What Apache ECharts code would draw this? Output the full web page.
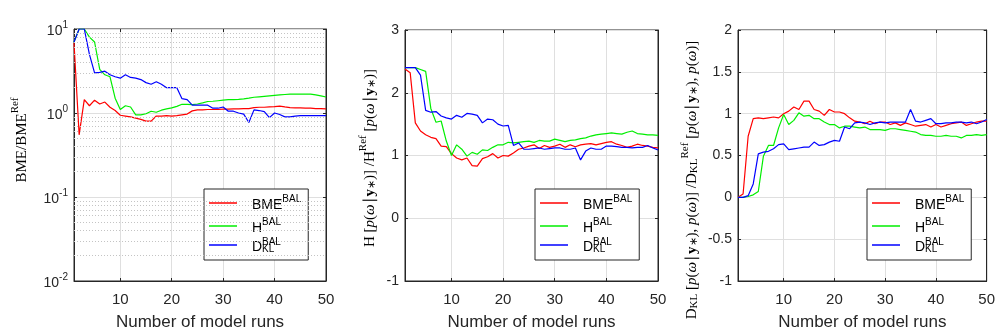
<!DOCTYPE html>
<html>
<head>
<meta charset="utf-8">
<script src="https://cdn.jsdelivr.net/npm/echarts@6/dist/echarts.min.js"></script>
<style>
  html, body { margin: 0; padding: 0; background: #fff; }
  #chart { width: 998px; height: 336px; }
</style>
</head>
<body>
<div id="chart"></div>
<script>
// x values: number of model runs
var runs = [1, 2, 3, 4, 5, 6, 7, 8, 9, 10, 11, 12, 13, 14, 15, 16, 17, 18, 19, 20,
  21, 22, 23, 24, 25, 26, 27, 28, 29, 30, 31, 32, 33, 34, 35, 36, 37, 38, 39, 40,
  41, 42, 43, 44, 45, 46, 47, 48, 49, 50];
var xTicks = [10, 20, 30, 40, 50];

// panel 1: BME / BME_ref (log axis)
var bme_bme = [6.8, 0.55, 1.44, 1.22, 1.42, 1.28, 1.35, 1.17, 1.07, 0.94,
  0.92, 0.9, 0.87, 0.84, 0.8, 0.8, 0.92, 0.92, 0.93, 0.92,
  0.93, 0.95, 0.97, 1.06, 1.09, 1.09, 1.1, 1.1, 1.1, 1.11,
  1.11, 1.12, 1.12, 1.13, 1.13, 1.16, 1.17, 1.17, 1.18, 1.19,
  1.21, 1.18, 1.16, 1.15, 1.15, 1.14, 1.14, 1.13, 1.13, 1.12];
var bme_h = [7.0, 10, 10, 8.0, 7.0, 3.3, 2.85, 2.7, 1.5, 1.1,
  1.22, 1.18, 0.95, 0.95, 0.98, 1.05, 1.02, 1.08, 1.12, 1.15,
  1.2, 1.27, 1.27, 1.26, 1.28, 1.32, 1.37, 1.38, 1.4, 1.42,
  1.44, 1.44, 1.45, 1.47, 1.5, 1.54, 1.56, 1.58, 1.6, 1.62,
  1.64, 1.66, 1.68, 1.68, 1.68, 1.68, 1.68, 1.64, 1.6, 1.55];
var bme_dkl = [7.0, 10, 10, 5.0, 3.0, 3.05, 3.15, 2.85, 2.7, 2.6,
  2.85, 2.65, 2.6, 2.5, 2.3, 2.2, 2.35, 2.2, 2.0, 2.0,
  2.0, 1.48, 1.44, 1.24, 1.24, 1.24, 1.24, 1.14, 1.14, 1.18,
  1.05, 1.05, 1.0, 0.97, 0.77, 1.09, 1.07, 1.04, 0.88, 1.0,
  0.96, 0.9, 0.9, 0.92, 0.93, 0.93, 0.93, 0.93, 0.93, 0.93];

// panel 2: entropy ratio
var h_bme = [2.38, 2.32, 1.52, 1.39, 1.33, 1.29, 1.27, 1.15, 1.14, 1.03,
  0.96, 0.93, 0.96, 0.84, 0.83, 0.95, 0.98, 1.03, 0.96, 1.0,
  0.99, 1.04, 1.1, 1.12, 1.15, 1.17, 1.11, 1.16, 1.13, 1.15,
  1.18, 1.13, 1.17, 1.14, 1.17, 1.18, 1.19, 1.17, 1.19, 1.21,
  1.22, 1.18, 1.16, 1.13, 1.15, 1.18, 1.16, 1.15, 1.13, 1.12];
var h_h = [2.4, 2.4, 2.4, 2.37, 2.34, 1.75, 1.53, 1.55, 1.23, 1.0,
  1.17, 1.1, 0.99, 1.05, 1.02, 1.09, 1.08, 1.13, 1.17, 1.17,
  1.21, 1.2, 1.21, 1.22, 1.23, 1.21, 1.24, 1.23, 1.23, 1.26,
  1.24, 1.22, 1.24, 1.25, 1.27, 1.28, 1.31, 1.33, 1.34, 1.35,
  1.36, 1.35, 1.34, 1.37, 1.39, 1.35, 1.34, 1.33, 1.33, 1.32];
var h_dkl = [2.4, 2.4, 2.4, 2.28, 1.72, 1.69, 1.7, 1.63, 1.6, 1.58,
  1.64, 1.61, 1.67, 1.66, 1.64, 1.52, 1.58, 1.57, 1.5, 1.47,
  1.48, 1.16, 1.2, 1.1, 1.1, 1.11, 1.12, 1.1, 1.11, 1.12,
  1.12, 1.1, 1.1, 1.12, 0.93, 1.07, 1.12, 1.1, 1.1, 1.15,
  1.15, 1.14, 1.13, 1.13, 1.12, 1.13, 1.13, 1.16, 1.12, 1.09];

// panel 3: relative entropy ratio
var d_bme = [0.0, 0.04, 0.73, 0.94, 0.95, 0.94, 0.95, 0.96, 0.95, 1.0,
  1.03, 1.08, 1.05, 1.15, 1.15, 1.05, 1.03, 0.98, 1.05, 1.02,
  1.02, 1.0, 0.95, 0.91, 0.9, 0.88, 0.91, 0.88, 0.9, 0.9,
  0.87, 0.89, 0.86, 0.89, 0.87, 0.85, 0.86, 0.87, 0.84, 0.87,
  0.84, 0.86, 0.88, 0.89, 0.9, 0.86, 0.88, 0.9, 0.91, 0.91];
var d_h = [0.0, 0.0, 0.01, 0.03, 0.07, 0.49, 0.62, 0.62, 0.83, 0.99,
  0.87, 0.92, 1.01, 0.97, 0.98, 0.94, 0.94, 0.9, 0.87, 0.87,
  0.83, 0.85, 0.85, 0.84, 0.83, 0.84, 0.81, 0.81, 0.81, 0.8,
  0.82, 0.82, 0.81, 0.8, 0.79, 0.78, 0.75, 0.74, 0.74, 0.73,
  0.73, 0.74, 0.73, 0.73, 0.71, 0.74, 0.74, 0.75, 0.74, 0.75];
var d_dkl = [0.0, 0.0, 0.02, 0.16, 0.52, 0.54, 0.55, 0.58, 0.63, 0.64,
  0.57, 0.58, 0.59, 0.6, 0.6, 0.66, 0.62, 0.63, 0.66, 0.68,
  0.67, 0.84, 0.82, 0.89, 0.9, 0.89, 0.87, 0.89, 0.9, 0.89,
  0.9, 0.9, 0.9, 0.9, 1.05, 0.91, 0.9, 0.92, 0.94, 0.88,
  0.88, 0.89, 0.89, 0.9, 0.9, 0.89, 0.9, 0.88, 0.9, 0.93];

// minor grid lines of the log axis
var logMinor = [0.02, 0.03, 0.04, 0.05, 0.06, 0.07, 0.08, 0.09,
  0.2, 0.3, 0.4, 0.5, 0.6, 0.7, 0.8, 0.9,
  2, 3, 4, 5, 6, 7, 8, 9];

var names = ['BME', 'H', 'DKL'];
var colors = ['#ff0000', '#00ee00', '#0000ff'];

var ink = '#262626';
var gridColor = '#dfdfdf';
var sans = 'Liberation Sans, Arial, sans-serif';
var serif = 'Liberation Serif, Times New Roman, serif';

var panels = [
  { rect: [74, 29, 252, 253], type: 'log', min: 0.01, max: 10, data: [bme_bme, bme_h, bme_dkl], legend: [204, 189] },
  { rect: [405, 30, 253, 252], type: 'value', min: -1, max: 3, interval: 1, data: [h_bme, h_h, h_dkl], legend: [535, 189] },
  { rect: [738, 30, 252, 252], type: 'value', min: -1, max: 2, interval: 0.5, data: [d_bme, d_h, d_dkl], legend: [867, 189] }
];

function pairs(ys) {
  return runs.map(function(x, i) { return [x, ys[i]]; });
}

var grids = [], xAxes = [], yAxes = [], series = [], legends = [];
var supRich = {
  b: { fontSize: 14, lineHeight: 18, verticalAlign: 'bottom', color: ink, fontFamily: sans },
  sup: { fontSize: 10, lineHeight: 18, verticalAlign: 'top', color: ink, fontFamily: sans }
};

panels.forEach(function(p, k) {
  grids.push({ left: p.rect[0], top: p.rect[1], width: p.rect[2], height: p.rect[3],
    show: true, borderColor: ink, borderWidth: 1, backgroundColor: '#fff' });

  xAxes.push({
    gridIndex: k, type: 'value', min: 1, max: 50, position: 'bottom',
    name: 'Number of model runs', nameLocation: 'middle', nameGap: 33,
    nameTextStyle: { fontSize: 17, color: ink, fontFamily: sans },
    axisLine: { onZero: false, lineStyle: { color: ink } },
    axisTick: { inside: true, length: 3, customValues: xTicks, lineStyle: { color: ink } },
    axisLabel: { customValues: xTicks, fontSize: 15, color: ink, fontFamily: sans, margin: 11 },
    splitLine: { show: true, lineStyle: { color: gridColor } }
  });
  xAxes.push({
    gridIndex: k, type: 'value', min: 1, max: 50, position: 'top',
    axisLine: { show: false, onZero: false },
    axisTick: { inside: true, length: 3, customValues: xTicks, lineStyle: { color: ink } },
    axisLabel: { show: false }, splitLine: { show: false }
  });

  var yBase = {
    gridIndex: k, type: p.type, min: p.min, max: p.max,
    axisLine: { show: true, onZero: false, lineStyle: { color: ink } },
    axisTick: { show: true, inside: true, length: 3, lineStyle: { color: ink } }
  };
  if (p.interval) yBase.interval = p.interval;
  if (p.type === 'log') yBase.logBase = 10;

  var yLeft = Object.assign({}, yBase, {
    position: 'left',
    axisLabel: { fontSize: 14, color: ink, fontFamily: sans, margin: 6 },
    splitLine: { show: true, lineStyle: { color: gridColor } }
  });
  if (p.type === 'log') {
    yLeft.axisLabel = {
      margin: 6, rich: supRich,
      formatter: function(v) {
        var e = Math.round(Math.log(v) / Math.LN10);
        return '{b|10}{sup|' + e + '}';
      }
    };
  }
  yAxes.push(yLeft);
  yAxes.push(Object.assign({}, yBase, {
    position: 'right', axisLabel: { show: false }, splitLine: { show: false }
  }));

  if (p.type === 'log') {
    series.push({
      type: 'line', xAxisIndex: 2 * k, yAxisIndex: 2 * k, data: [], z: 1, silent: true,
      markLine: {
        silent: true, symbol: 'none', label: { show: false }, animation: false,
        lineStyle: { color: '#c4c4c4', type: [1, 2], width: 1 },
        data: logMinor.map(function(v) { return { yAxis: v }; })
      }
    });
  }

  p.data.forEach(function(ys, j) {
    series.push({
      name: names[j], type: 'line', xAxisIndex: 2 * k, yAxisIndex: 2 * k,
      data: pairs(ys), symbol: 'none', z: 3,
      lineStyle: { color: colors[j], width: 1.2 }, itemStyle: { color: colors[j] }
    });
  });

  legends.push({
    left: p.legend[0], top: p.legend[1], orient: 'vertical',
    data: names, icon: 'rect', itemWidth: 28, itemHeight: 1.5, itemGap: 5,
    padding: [5, 7, 6, 5], backgroundColor: '#fff', borderColor: ink, borderWidth: 1,
    selectedMode: false,
    textStyle: { padding: [0, 0, 0, 10], rich: {
      b: { fontSize: 14, lineHeight: 18, verticalAlign: 'bottom', color: '#000', fontFamily: sans },
      sup: { fontSize: 10, lineHeight: 18, verticalAlign: 'top', color: '#000', fontFamily: sans },
      sub: { fontSize: 10, lineHeight: 18, verticalAlign: 'bottom', color: '#000', fontFamily: sans }
    } },
    formatter: function(n) {
      if (n === 'BME') return '{b|BME}{sup|BAL}';
      if (n === 'H') return '{b|H}{sup|BAL}';
      return '{b|D}{sub|KL}';
    }
  });
});

var nameRich = {
  r: { fontSize: 15, fontFamily: serif, color: ink, lineHeight: 20, verticalAlign: 'bottom' },
  i: { fontSize: 15, fontFamily: serif, fontStyle: 'italic', color: ink, lineHeight: 20, verticalAlign: 'bottom' },
  b: { fontSize: 15, fontFamily: serif, fontWeight: 'bold', color: ink, lineHeight: 20, verticalAlign: 'bottom' },
  sup: { fontSize: 11, fontFamily: serif, color: ink, lineHeight: 20, verticalAlign: 'top' },
  sub: { fontSize: 11, fontFamily: serif, color: ink, lineHeight: 20, verticalAlign: 'bottom' }
};
var pyo = '{i|p}{r|(}{i|ω}{r|\u2223}{b|y}{sub|∗}{r|)}';
var yNames = [
  { x: 20, y: 140, text: '{r|BME/BME}{sup|Ref}' },
  { x: 368, y: 158, text: '{r|H [}' + pyo + '{r|] /H}{sup|Ref}{r| [}' + pyo + '{r|]}' },
  { x: 690, y: 180, text: '{r|D}{sub|KL}{r| [}' + pyo + '{r|, }{i|p}{r|(}{i|ω}{r|)] /D}{sub|KL}{sup|Ref}{r| [}' + pyo + '{r|, }{i|p}{r|(}{i|ω}{r|)]}' }
];

var graphics = yNames.map(function(n) {
  return { type: 'text', x: n.x, y: n.y, rotation: Math.PI / 2, silent: true,
    style: { text: n.text, rich: nameRich, align: 'center', verticalAlign: 'middle' } };
});
// superscript BAL over the KL subscript in each legend
panels.forEach(function(p) {
  graphics.push({ type: 'text', x: p.legend[0] + 58, y: p.legend[1] + 48, silent: true, z: 100,
    style: { text: 'BAL', fontSize: 10, fontFamily: sans, fill: '#000' } });
});

var chart = echarts.init(document.getElementById('chart'));
chart.setOption({
  animation: false,
  grid: grids,
  xAxis: xAxes,
  yAxis: yAxes,
  legend: legends,
  series: series,
  graphic: graphics
});
window.addEventListener('resize', function() { chart.resize(); });
</script>
</body>
</html>
